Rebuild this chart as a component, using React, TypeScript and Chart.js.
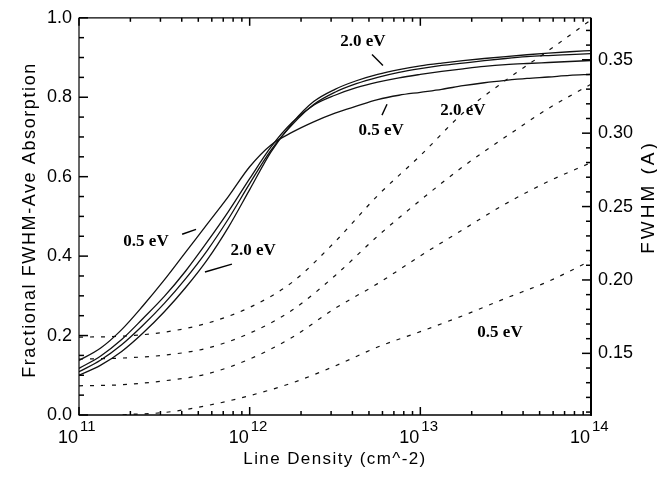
import { useEffect, useRef } from "react";
import { Chart, registerables } from "chart.js";

Chart.register(...registerables);

// ---------- data ----------
const lineDensity = [
  1e11, 1.334e11, 1.778e11, 2.371e11, 3.162e11, 4.217e11, 5.623e11, 7.499e11,
  1e12, 1.334e12, 1.778e12, 2.371e12, 3.162e12, 4.217e12, 5.623e12, 7.499e12,
  1e13, 1.334e13, 1.778e13, 2.371e13, 3.162e13, 4.217e13, 5.623e13, 7.499e13,
  1e14,
];
// fractional FWHM-averaged absorption (left axis)
const absorption05 = [0.1375, 0.168, 0.215, 0.275, 0.34, 0.41, 0.48, 0.55, 0.625, 0.68, 0.712, 0.738, 0.76, 0.7775, 0.794, 0.805, 0.8125, 0.82, 0.829, 0.8365, 0.8425, 0.8475, 0.851, 0.855, 0.8575];
const absorption10 = [0.1175, 0.148, 0.19, 0.243, 0.2985, 0.3625, 0.435, 0.512, 0.595, 0.675, 0.737, 0.78, 0.805, 0.824, 0.838, 0.849, 0.8575, 0.865, 0.8715, 0.8775, 0.882, 0.885, 0.8875, 0.89, 0.8925];
const absorption15 = [0.1088, 0.138, 0.177, 0.226, 0.281, 0.3435, 0.4135, 0.4935, 0.5825, 0.667, 0.731, 0.7815, 0.8125, 0.834, 0.85, 0.8625, 0.872, 0.88, 0.886, 0.892, 0.8975, 0.902, 0.905, 0.9075, 0.91];
const absorption20 = [0.1, 0.125, 0.16, 0.2065, 0.26, 0.321, 0.39, 0.4725, 0.5675, 0.6625, 0.735, 0.789, 0.82, 0.8415, 0.8575, 0.8695, 0.879, 0.886, 0.892, 0.8975, 0.9025, 0.907, 0.911, 0.9145, 0.9175];

// FWHM (right axis)
const fwhmDensity = [1e11, 1.778e11, 3.162e11, 5.623e11, 1e12, 1.778e12, 3.162e12, 5.623e12, 1e13, 1.778e13, 3.162e13, 5.623e13, 1e14];
const fwhm20 = [0.161, 0.1617, 0.1644, 0.1705, 0.1813, 0.1985, 0.226, 0.2575, 0.2847, 0.3137, 0.336, 0.3562, 0.3772];
const fwhm15 = [0.1461, 0.1468, 0.1488, 0.1535, 0.1637, 0.1795, 0.2029, 0.2299, 0.2543, 0.2772, 0.2975, 0.3168, 0.3334];
const fwhm10 = [0.1279, 0.1286, 0.1313, 0.136, 0.1461, 0.161, 0.1806, 0.1975, 0.2164, 0.2343, 0.2519, 0.2671, 0.2799];
const fwhm05 = [0.1043, 0.108, 0.1097, 0.1144, 0.1212, 0.1299, 0.1414, 0.1543, 0.1648, 0.1757, 0.1875, 0.199, 0.2132];

// axes
const xMin = 1e11;
const xMax = 1e14;
const xTickExponents = [11, 12, 13, 14];
const leftMin = 0;
const leftMax = 1;
const rightMin = 0.108;
const rightMax = 0.3786;
const xTitle = "Line Density (cm^-2)";
const leftTitle = "Fractional FWHM-Ave Absorption";
const rightTitle = "FWHM (A)";

// annotations (positions in x / left-axis units)
const labelTexts = ["2.0 eV", "0.5 eV", "2.0 eV", "0.5 eV", "2.0 eV", "0.5 eV"];
const labelDensity = [4.61e12, 5.89e12, 1.778e13, 2.47e11, 1.047e12, 2.93e13];
const labelValue = [0.94, 0.715, 0.7675, 0.4375, 0.415, 0.2075];
const pointerFromX = [5.21e12, 5.96e12, 4.02e11, 7.87e11];
const pointerFromY = [0.9075, 0.755, 0.455, 0.38];
const pointerToX = [6.04e12, 6.38e12, 4.85e11, 5.47e11];
const pointerToY = [0.88, 0.7825, 0.4675, 0.36];

const SANS = "'Liberation Sans', Arial, Helvetica, sans-serif";
const SERIF = "'Liberation Serif', 'Times New Roman', serif";

function pairs(xs: number[], ys: number[]) {
  return xs.map((x, i) => ({ x, y: ys[i] }));
}

const framePlugin = {
  id: "frame",
  afterDraw(chart: any) {
    const ctx: CanvasRenderingContext2D = chart.ctx;
    const { left, right, top, bottom } = chart.chartArea;
    const sx = chart.scales.x;
    const sy = chart.scales.y;
    const sy1 = chart.scales.y1;
    ctx.save();
    ctx.strokeStyle = "#000";
    ctx.fillStyle = "#000";
    ctx.setLineDash([]);
    const seg = (x1: number, y1: number, x2: number, y2: number, w: number) => {
      ctx.lineWidth = w;
      ctx.beginPath();
      ctx.moveTo(x1, y1);
      ctx.lineTo(x2, y2);
      ctx.stroke();
    };
    // frame
    seg(left, top, right, top, 1.2);
    seg(left, top, left, bottom, 1.2);
    seg(left - 0.5, bottom, right + 1, bottom, 1.6);
    seg(right, top, right, bottom + 0.8, 2);

    // left axis ticks
    for (let i = 0; i <= 20; i++) {
      const py = sy.getPixelForValue(i * 0.05);
      const major = i % 4 === 0;
      seg(left, py, left + (major ? 9 : 5), py, 1.5);
    }
    // right axis ticks
    for (let i = 11; i <= 37; i++) {
      const py = sy1.getPixelForValue(i / 100);
      const major = i % 5 === 0;
      seg(right, py, right - (major ? 9 : 5), py, 1.5);
    }
    // top / bottom ticks
    for (let e = 11; e <= 13; e++) {
      for (let m = 1; m <= 9; m++) {
        const px = sx.getPixelForValue(m * Math.pow(10, e));
        const len = m === 1 ? 8 : 4;
        seg(px, top, px, top + len, 1.5);
        seg(px, bottom, px, bottom - len, 1.5);
      }
    }

    // x tick labels 10^n
    ctx.textBaseline = "alphabetic";
    for (const ex of xTickExponents) {
      const px = sx.getPixelForValue(Math.pow(10, ex));
      ctx.font = `18px ${SANS}`;
      ctx.textAlign = "right";
      ctx.fillText("10", px - 1, 443);
      ctx.font = `15px ${SANS}`;
      ctx.textAlign = "left";
      ctx.fillText(String(ex), px + 1, 431);
    }

    // axis titles
    (ctx as any).letterSpacing = "1.4px";
    ctx.font = `17px ${SANS}`;
    ctx.textAlign = "center";
    ctx.fillText(xTitle, (left + right) / 2, 464);

    ctx.save();
    (ctx as any).letterSpacing = "1.6px";
    ctx.font = `18px ${SANS}`;
    ctx.translate(35, 220);
    ctx.rotate(-Math.PI / 2);
    ctx.fillText(leftTitle, 0, 0);
    ctx.restore();

    ctx.save();
    (ctx as any).letterSpacing = "3px";
    ctx.font = `19px ${SANS}`;
    ctx.translate(654, 197);
    ctx.rotate(-Math.PI / 2);
    ctx.fillText(rightTitle, 0, 0);
    ctx.restore();
    (ctx as any).letterSpacing = "0px";

    // annotations
    ctx.font = `bold 17px ${SERIF}`;
    ctx.textAlign = "center";
    ctx.textBaseline = "middle";
    labelTexts.forEach((t, i) => {
      ctx.fillText(t, sx.getPixelForValue(labelDensity[i]), sy.getPixelForValue(labelValue[i]));
    });
    pointerFromX.forEach((fx, i) => {
      seg(
        sx.getPixelForValue(fx),
        sy.getPixelForValue(pointerFromY[i]),
        sx.getPixelForValue(pointerToX[i]),
        sy.getPixelForValue(pointerToY[i]),
        1.4
      );
    });
    ctx.restore();
  },
};

export default function App() {
  const ref = useRef<HTMLCanvasElement | null>(null);
  useEffect(() => {
    document.body.style.margin = "0";
    const canvas = ref.current;
    if (!canvas) return;
    const solid = (data: number[]) => ({
      data: pairs(lineDensity, data),
      borderColor: "#111",
      borderWidth: 1.3,
      pointRadius: 0,
      fill: false,
      cubicInterpolationMode: "monotone" as const,
      yAxisID: "y",
    });
    const dashed = (data: number[]) => ({
      data: pairs(fwhmDensity, data),
      borderColor: "#111",
      borderWidth: 1.2,
      borderDash: [4, 7],
      pointRadius: 0,
      fill: false,
      cubicInterpolationMode: "monotone" as const,
      yAxisID: "y1",
    });
    const chart = new Chart(canvas, {
      type: "line",
      data: {
        datasets: [
          solid(absorption05),
          solid(absorption10),
          solid(absorption15),
          solid(absorption20),
          dashed(fwhm20),
          dashed(fwhm15),
          dashed(fwhm10),
          dashed(fwhm05),
        ],
      },
      options: {
        responsive: false,
        animation: false,
        layout: { padding: { top: 15, left: 0, right: 0, bottom: 0 } },
        plugins: { legend: { display: false }, tooltip: { enabled: false } },
        scales: {
          x: {
            type: "logarithmic",
            min: xMin,
            max: xMax,
            position: "bottom",
            grid: { display: false, drawTicks: false },
            border: { display: false },
            ticks: { display: false },
            afterFit: (s: any) => {
              s.height = 62;
            },
          },
          y: {
            type: "linear",
            min: leftMin,
            max: leftMax,
            position: "left",
            grid: { display: false, drawTicks: false, tickLength: 0 },
            border: { display: false },
            ticks: {
              stepSize: 0.2,
              color: "#000",
              padding: 7,
              font: { family: SANS, size: 18 },
              callback: (v: any) => Number(v).toFixed(1),
            },
            afterFit: (s: any) => {
              s.width = 79;
            },
          },
          y1: {
            type: "linear",
            min: rightMin,
            max: rightMax,
            position: "right",
            grid: { display: false, drawTicks: false, tickLength: 0 },
            border: { display: false },
            ticks: {
              stepSize: 0.05,
              includeBounds: false,
              color: "#000",
              padding: 7,
              font: { family: SANS, size: 18 },
              callback: (v: any) => Number(v).toFixed(2),
            },
            afterFit: (s: any) => {
              s.width = 66;
            },
          },
        },
      },
      plugins: [framePlugin],
    });
    return () => chart.destroy();
  }, []);
  return <canvas ref={ref} width={657} height={477} style={{ display: "block" }} />;
}
